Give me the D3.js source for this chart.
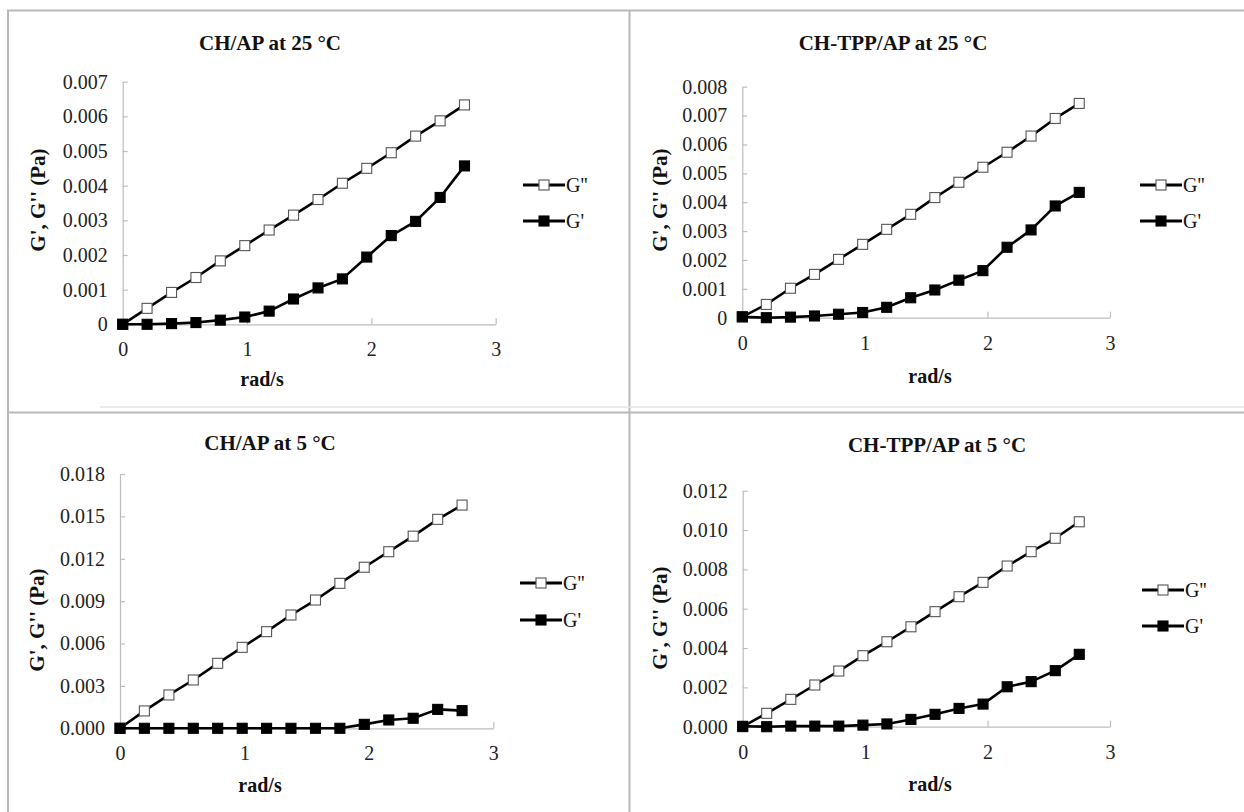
<!DOCTYPE html>
<html>
<head>
<meta charset="utf-8">
<script src="https://cdn.jsdelivr.net/npm/d3@7"></script>
<style>
  html, body { margin: 0; padding: 0; background: #fff; }
  svg { display: block; }
</style>
</head>
<body>
<script>
// ---------- data ----------
const omega = [0, 0.196, 0.393, 0.589, 0.785, 0.982, 1.178, 1.374, 1.571, 1.767, 1.963, 2.160, 2.356, 2.553, 2.749];

const chAp25_Gpp = [0, 0.00046, 0.00092, 0.00135, 0.00183, 0.00227, 0.00272, 0.00315, 0.00360, 0.00407, 0.00450, 0.00495, 0.00543, 0.00587, 0.00633];
const chAp25_Gp  = [0, 0.00000, 0.00002, 0.00005, 0.00012, 0.00021, 0.00038, 0.00073, 0.00105, 0.00131, 0.00194, 0.00256, 0.00297, 0.00366, 0.00457];

const chTpp25_Gpp = [0.00003, 0.00046, 0.00102, 0.00150, 0.00202, 0.00254, 0.00306, 0.00358, 0.00416, 0.00469, 0.00521, 0.00573, 0.00629, 0.00690, 0.00742];
const chTpp25_Gp  = [0.00003, 0.00000, 0.00002, 0.00006, 0.00012, 0.00018, 0.00036, 0.00069, 0.00096, 0.00130, 0.00163, 0.00244, 0.00304, 0.00387, 0.00434];

const chAp5_Gpp = [0, 0.00123, 0.00236, 0.00342, 0.00460, 0.00573, 0.00684, 0.00802, 0.00908, 0.01026, 0.01140, 0.01250, 0.01360, 0.01479, 0.01580];
const chAp5_Gp  = [0, 0, 0, 0, 0, 0, 0, 0, 0, 0, 0.00028, 0.00059, 0.00071, 0.00134, 0.00125];

const chTpp5_Gpp = [0, 0.00068, 0.00139, 0.00212, 0.00283, 0.00361, 0.00432, 0.00508, 0.00585, 0.00661, 0.00734, 0.00817, 0.00890, 0.00958, 0.01042];
const chTpp5_Gp  = [0.00002, 0.00000, 0.00003, 0.00003, 0.00003, 0.00008, 0.00014, 0.00037, 0.00063, 0.00093, 0.00115, 0.00203, 0.00229, 0.00285, 0.00368];

const titles = ["CH/AP at 25 °C", "CH-TPP/AP at 25 °C", "CH/AP at 5 °C", "CH-TPP/AP at 5 °C"];
const xTicks = [0, 1, 2, 3];
const yTicksA = [0, 0.001, 0.002, 0.003, 0.004, 0.005, 0.006, 0.007];
const yTicksB = [0, 0.001, 0.002, 0.003, 0.004, 0.005, 0.006, 0.007, 0.008];
const yTicksC = [0, 0.003, 0.006, 0.009, 0.012, 0.015, 0.018];
const yTicksD = [0, 0.002, 0.004, 0.006, 0.008, 0.010, 0.012];
const seriesNames = ["G''", "G'"];
const xLabel = "rad/s";
const yLabel = "G', G'' (Pa)";

// ---------- layout ----------
const W = 1244, H = 812;
const FONT = '"Liberation Serif"';
const panels = [
  { gpp: chAp25_Gpp,  gp: chAp25_Gp,  yTicks: yTicksA, fmt: d => d === 0 ? "0" : d3.format(".3f")(d),
    x0: 122.7, x1: 495.7, yb: 324.3, yt: 81.7, titleX: 270, titleY: 50, yLabX: 38, yLabY: 200, xLabX: 262, xLabY: 386, legX: 523, legY1: 185, legY2: 221 },
  { gpp: chTpp25_Gpp, gp: chTpp25_Gp, yTicks: yTicksB, fmt: d => d === 0 ? "0" : d3.format(".3f")(d),
    x0: 742.3, x1: 1110, yb: 317.7, yt: 86.7, titleX: 893, titleY: 50, yLabX: 660, yLabY: 200, xLabX: 930, xLabY: 383, legX: 1140, legY1: 185, legY2: 221 },
  { gpp: chAp5_Gpp,   gp: chAp5_Gp,   yTicks: yTicksC, fmt: d3.format(".3f"),
    x0: 120, x1: 493.3, yb: 728.3, yt: 474, titleX: 270, titleY: 450, yLabX: 37, yLabY: 620, xLabX: 260, xLabY: 792, legX: 520, legY1: 583, legY2: 620 },
  { gpp: chTpp5_Gpp,  gp: chTpp5_Gp,  yTicks: yTicksD, fmt: d3.format(".3f"),
    x0: 742.7, x1: 1110, yb: 726.7, yt: 490.7, titleX: 937, titleY: 452, yLabX: 660, yLabY: 618, xLabX: 930, xLabY: 791, legX: 1142, legY1: 590, legY2: 626 }
];

const svg = d3.select("body").append("svg").attr("width", W).attr("height", H);
svg.append("rect").attr("width", W).attr("height", H).attr("fill", "#fff");

// frame lines
const frame = svg.append("g").attr("stroke", "#b9b9b9").attr("stroke-width", 2).attr("fill", "none");
frame.append("line").attr("x1", 7).attr("x2", W).attr("y1", 10.5).attr("y2", 10.5);
frame.append("line").attr("x1", 8).attr("x2", 8).attr("y1", 10).attr("y2", H);
frame.append("line").attr("x1", 629.5).attr("x2", 629.5).attr("y1", 10).attr("y2", H);
frame.append("line").attr("x1", 7).attr("x2", W).attr("y1", 412.5).attr("y2", 412.5);
frame.append("line").attr("x1", 100).attr("x2", W).attr("y1", 407).attr("y2", 407).attr("stroke", "#e4e4e4").attr("stroke-width", 1.5);

const axisColor = "#bdbdbd";
const MS = 10;

panels.forEach((p, i) => {
  const g = svg.append("g");
  const x = d3.scaleLinear().domain([0, 3]).range([p.x0, p.x1]);
  const yMax = p.yTicks[p.yTicks.length - 1];
  const y = d3.scaleLinear().domain([0, yMax]).range([p.yb, p.yt]);

  // axes
  const ya = g.append("g").attr("transform", `translate(${p.x0},0)`)
    .call(d3.axisLeft(y).tickValues(p.yTicks).tickFormat(p.fmt).tickSizeInner(-5).tickSizeOuter(0).tickPadding(15));
  const xa = g.append("g").attr("transform", `translate(0,${p.yb})`)
    .call(d3.axisBottom(x).tickValues(xTicks).tickFormat(d3.format("d")).tickSizeInner(-6).tickSizeOuter(0).tickPadding(18));
  [ya, xa].forEach(a => {
    a.attr("font-family", FONT).attr("font-size", 20);
    a.select(".domain").attr("stroke", axisColor).attr("stroke-width", 1.2);
    a.selectAll(".tick line").attr("stroke", axisColor).attr("stroke-width", 1.2);
    a.selectAll(".tick text").style("font-family", FONT).style("font-size", "20px").attr("fill", "#222");
  });

  // title
  g.append("text").attr("x", p.titleX).attr("y", p.titleY).attr("text-anchor", "middle")
    .style("font-family", FONT).style("font-size", "21px").style("font-weight", "bold").attr("fill", "#111").text(titles[i]);
  // y label
  g.append("text").attr("transform", `translate(${p.yLabX},${p.yLabY}) rotate(-90)`)
    .style("font-family", FONT).attr("text-anchor", "middle").attr("dy", "0.35em")
    .style("font-size", "21px").style("font-weight", "bold").attr("fill", "#111").text(yLabel);
  // x label
  g.append("text").attr("x", p.xLabX).attr("y", p.xLabY).attr("text-anchor", "middle")
    .style("font-family", FONT).style("font-size", "20px").style("font-weight", "bold").attr("fill", "#111").text(xLabel);

  const line = d3.line().x((d, k) => x(omega[k])).y(d => y(d));
  const series = [
    { vals: p.gpp, fill: "#fff", stroke: "#555" },
    { vals: p.gp, fill: "#000", stroke: "#000" }
  ];
  series.forEach(s => {
    g.append("path").datum(s.vals).attr("d", line).attr("fill", "none")
      .attr("stroke", "#000").attr("stroke-width", 2.6).attr("stroke-linejoin", "round");
    g.selectAll(null).data(s.vals).enter().append("rect")
      .attr("x", (d, k) => x(omega[k]) - MS / 2).attr("y", d => y(d) - MS / 2)
      .attr("width", MS).attr("height", MS)
      .attr("fill", s.fill).attr("stroke", s.stroke).attr("stroke-width", 1.1);
  });

  // legend
  [p.legY1, p.legY2].forEach((ly, k) => {
    const s = series[k];
    g.append("line").attr("x1", p.legX).attr("x2", p.legX + 42).attr("y1", ly).attr("y2", ly)
      .attr("stroke", "#000").attr("stroke-width", 2.8);
    g.append("rect").attr("x", p.legX + 21 - MS / 2).attr("y", ly - MS / 2).attr("width", MS).attr("height", MS)
      .attr("fill", s.fill).attr("stroke", s.stroke).attr("stroke-width", 1.1);
    g.append("text").attr("x", p.legX + 43).attr("y", ly).attr("dy", "0.35em")
      .style("font-family", FONT).style("font-size", "20px").attr("fill", "#111").text(seriesNames[k]);
  });
});
</script>
</body>
</html>
